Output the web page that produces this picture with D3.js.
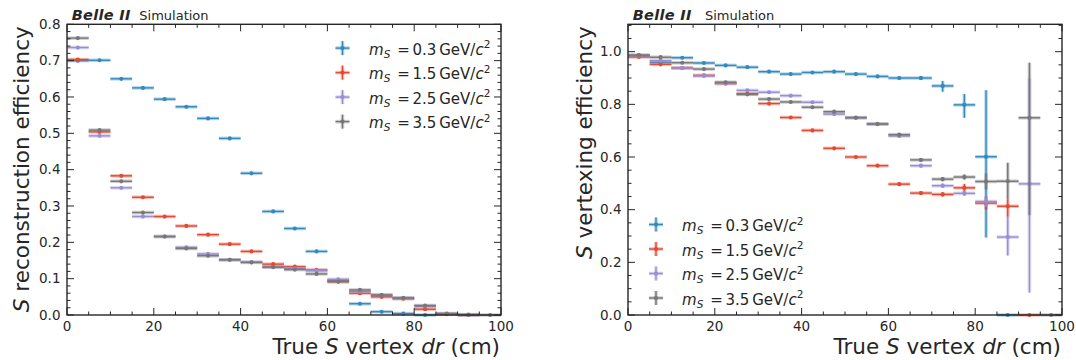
<!DOCTYPE html>
<html><head><meta charset="utf-8">
<script src="https://cdn.jsdelivr.net/npm/d3@7"></script>
<style>
html,body{margin:0;padding:0;background:#fff;}
svg text{font-family:"DejaVu Sans",sans-serif;fill:#262626;}
</style></head>
<body><svg id="c" width="1076" height="360"></svg>
<script>
// ---------- data ----------
const binCenters = [2.5,7.5,12.5,17.5,22.5,27.5,32.5,37.5,42.5,47.5,52.5,57.5,62.5,67.5,72.5,77.5,82.5,87.5,92.5,97.5];
const binHalfWidth = 2.5;
const seriesLabels = ["0.3","1.5","2.5","3.5"];
const seriesColors = ["#348ABD","#E24A33","#988ED5","#777777"];

// S reconstruction efficiency
const recoMs03 = [0.700,0.701,0.650,0.625,0.594,0.573,0.541,0.486,0.390,0.285,0.238,0.175,0.095,0.031,0.009,0.004,0.0,null,null,null];
const recoMs15 = [0.703,0.504,0.383,0.324,0.271,0.245,0.221,0.195,0.175,0.140,0.133,0.124,0.092,0.060,0.050,0.045,0.016,0.002,0.0,null];
const recoMs25 = [0.736,0.493,0.350,0.271,0.216,0.186,0.168,0.152,0.145,0.132,0.128,0.122,0.098,0.065,0.055,0.046,0.024,0.003,0.0,null];
const recoMs35 = [0.762,0.509,0.368,0.282,0.216,0.183,0.163,0.152,0.145,0.132,0.125,0.113,0.092,0.069,0.055,0.047,0.026,0.004,0.001,0.0];
const recoErr = [0.002,0.002,0.002,0.002,0.002,0.002,0.002,0.002,0.002,0.002,0.002,0.002,0.002,0.002,0.002,0.002,0.002,0.001,0.0,0.0];

// S vertexing efficiency
const vtxMs03 = [0.985,0.960,0.977,0.957,0.948,0.941,0.924,0.915,0.921,0.924,0.915,0.906,0.900,0.900,0.870,0.798,0.601,0.0,null,null];
const vtxMs15 = [0.980,0.952,0.938,0.910,0.879,0.840,0.803,0.750,0.701,0.633,0.600,0.567,0.497,0.463,0.458,0.483,0.425,0.413,0.0,null];
const vtxMs25 = [0.985,0.966,0.938,0.908,0.880,0.853,0.846,0.833,0.808,0.763,0.750,0.726,0.680,0.567,0.491,0.462,0.431,0.296,0.498,null];
const vtxMs35 = [0.987,0.979,0.958,0.934,0.884,0.838,0.820,0.809,0.789,0.772,0.749,0.725,0.685,0.589,0.516,0.524,0.507,0.508,0.749,0.0];
const vtxErrUp03 = [0.003,0.003,0.003,0.003,0.003,0.003,0.003,0.004,0.004,0.004,0.004,0.005,0.006,0.008,0.019,0.041,0.253,0,0,0];
const vtxErrDn03 = [0.003,0.003,0.003,0.003,0.003,0.003,0.003,0.004,0.004,0.004,0.004,0.005,0.006,0.008,0.022,0.049,0.307,0,0,0];
const vtxErrUp15 = [0.003,0.003,0.003,0.003,0.003,0.003,0.003,0.004,0.004,0.004,0.004,0.005,0.006,0.007,0.008,0.015,0.025,0.025,0,0];
const vtxErrDn15 = [0.003,0.003,0.003,0.003,0.003,0.003,0.003,0.004,0.004,0.004,0.004,0.005,0.006,0.007,0.008,0.015,0.025,0.040,0,0];
const vtxErrUp25 = [0.003,0.003,0.003,0.003,0.003,0.003,0.003,0.004,0.004,0.004,0.004,0.005,0.006,0.007,0.008,0.010,0.020,0.077,0.400,0];
const vtxErrDn25 = [0.003,0.003,0.003,0.003,0.003,0.003,0.003,0.004,0.004,0.004,0.004,0.005,0.006,0.007,0.008,0.010,0.020,0.070,0.413,0];
const vtxErrUp35 = [0.003,0.003,0.003,0.003,0.003,0.003,0.003,0.004,0.004,0.004,0.004,0.005,0.006,0.007,0.008,0.010,0.030,0.070,0.209,0];
const vtxErrDn35 = [0.003,0.003,0.003,0.003,0.003,0.003,0.003,0.004,0.004,0.004,0.004,0.005,0.006,0.007,0.008,0.010,0.030,0.070,0.370,0];

const xTicks = [0,20,40,60,80,100];
const recoYTicks = [0.0,0.1,0.2,0.3,0.4,0.5,0.6,0.7,0.8];
const vtxYTicks = [0.0,0.2,0.4,0.6,0.8,1.0];

// ---------- drawing ----------
const svg = d3.select("#c");
const plotTop = 24.3, plotBottom = 315;

function panel(cfg){
  const x = d3.scaleLinear().domain([0,100]).range([cfg.x0,cfg.x1]);
  const y = d3.scaleLinear().domain(cfg.yDomain).range([plotBottom,plotTop]);
  const g = svg.append("g");

  // data
  cfg.series.forEach((s,i)=>{
    const col = seriesColors[i];
    const sg = g.append("g");
    binCenters.forEach((c,j)=>{
      const v = s.vals[j];
      if(v===null) return;
      const up = s.up[j]||0, dn = s.dn[j]||0;
      sg.append("line").attr("x1",x(c-binHalfWidth)).attr("x2",x(c+binHalfWidth))
        .attr("y1",y(v)).attr("y2",y(v)).attr("stroke",col).attr("stroke-width",3.6).attr("stroke-opacity",0.35);
      if(up+dn>0.01) sg.append("line").attr("x1",x(c)).attr("x2",x(c)).attr("y1",y(v+up)).attr("y2",y(v-dn))
        .attr("stroke",col).attr("stroke-width",3.6).attr("stroke-opacity",0.35);
      sg.append("line").attr("x1",x(c-binHalfWidth)).attr("x2",x(c+binHalfWidth))
        .attr("y1",y(v)).attr("y2",y(v)).attr("stroke",col).attr("stroke-width",1.4);
      sg.append("line").attr("x1",x(c)).attr("x2",x(c)).attr("y1",y(v+up)).attr("y2",y(v-dn))
        .attr("stroke",col).attr("stroke-width",1.4);
      sg.append("circle").attr("cx",x(c)).attr("cy",y(v)).attr("r",2.1).attr("fill",col);
    });
  });

  // axes (inward ticks)
  const major = 7, minor = 3.5;
  const ax = g.append("g");
  d3.range(0,100.01,5).forEach(t=>{
    const L = xTicks.includes(t)?major:minor;
    ax.append("line").attr("x1",x(t)).attr("x2",x(t)).attr("y1",plotBottom).attr("y2",plotBottom-L).attr("stroke","#262626").attr("stroke-width",1);
    ax.append("line").attr("x1",x(t)).attr("x2",x(t)).attr("y1",plotTop).attr("y2",plotTop+L).attr("stroke","#262626").attr("stroke-width",1);
  });
  d3.range(cfg.yDomain[0], cfg.yDomain[1]+1e-9, cfg.yMinorStep).forEach(t=>{
    const isMaj = cfg.yTicks.some(m=>Math.abs(m-t)<1e-6);
    const L = isMaj?major:minor;
    ax.append("line").attr("x1",cfg.x0).attr("x2",cfg.x0+L).attr("y1",y(t)).attr("y2",y(t)).attr("stroke","#262626").attr("stroke-width",1);
    ax.append("line").attr("x1",cfg.x1).attr("x2",cfg.x1-L).attr("y1",y(t)).attr("y2",y(t)).attr("stroke","#262626").attr("stroke-width",1);
  });
  xTicks.forEach(t=>{
    ax.append("text").attr("x",x(t)).attr("y",plotBottom+16.3).attr("text-anchor","middle").attr("font-size",13.5).text(t);
  });
  cfg.yTicks.forEach(t=>{
    ax.append("text").attr("x",cfg.x0-6.5).attr("y",y(t)+4.8).attr("text-anchor","end").attr("font-size",13.5).text(t.toFixed(1));
  });
  ax.append("rect").attr("x",cfg.x0).attr("y",plotTop).attr("width",cfg.x1-cfg.x0).attr("height",plotBottom-plotTop)
    .attr("fill","none").attr("stroke","#262626").attr("stroke-width",1.4);

  // titles
  g.append("text").attr("x",cfg.x0+4.7).attr("y",20).attr("font-weight","bold").attr("font-style","italic")
    .attr("font-size",14.5).attr("letter-spacing",0.3).text("Belle II");
  g.append("text").attr("x",cfg.x0+cfg.simDx).attr("y",20).attr("font-size",13).text("Simulation");

  const xl = g.append("text").attr("x",cfg.x1-1).attr("y",354).attr("text-anchor","end").attr("font-size",21.5);
  xl.append("tspan").text("True ");
  xl.append("tspan").attr("font-style","italic").text("S");
  xl.append("tspan").text(" vertex ");
  xl.append("tspan").attr("font-style","italic").text("dr");
  xl.append("tspan").text(" (cm)");

  const yl = g.append("text").attr("transform",`translate(${cfg.ylx},${plotTop+2}) rotate(-90)`)
    .attr("text-anchor","end").attr("font-size",21.5);
  yl.append("tspan").attr("font-style","italic").text("S");
  yl.append("tspan").text(" "+cfg.ylabel);

  // legend
  const lg = g.append("g");
  seriesLabels.forEach((lab,i)=>{
    const col = seriesColors[i];
    const ly = cfg.legY + i*cfg.legStep, lx = cfg.legX;
    lg.append("line").attr("x1",lx-7).attr("x2",lx+7).attr("y1",ly).attr("y2",ly).attr("stroke",col).attr("stroke-width",3.6).attr("stroke-opacity",0.35);
    lg.append("line").attr("x1",lx).attr("x2",lx).attr("y1",ly-7).attr("y2",ly+7).attr("stroke",col).attr("stroke-width",3.6).attr("stroke-opacity",0.35);
    lg.append("line").attr("x1",lx-7).attr("x2",lx+7).attr("y1",ly).attr("y2",ly).attr("stroke",col).attr("stroke-width",1.4);
    lg.append("line").attr("x1",lx).attr("x2",lx).attr("y1",ly-7).attr("y2",ly+7).attr("stroke",col).attr("stroke-width",1.4);
    lg.append("circle").attr("cx",lx).attr("cy",ly).attr("r",2.1).attr("fill",col);
    const tx = lg.append("text").attr("x",cfg.legTextX).attr("y",ly+6.5).attr("font-size",15);
    tx.append("tspan").attr("font-style","italic").text("m");
    tx.append("tspan").attr("font-style","italic").attr("font-size",10.5).attr("dy",3).text("S");
    tx.append("tspan").attr("dy",-3).attr("dx",7).text("=");
    tx.append("tspan").attr("dx",2.5).text(lab);
    tx.append("tspan").attr("dx",3).text("GeV/");
    tx.append("tspan").attr("font-style","italic").text("c");
    tx.append("tspan").attr("font-size",10.5).attr("dy",-6.5).text("2");
  });
}

panel({x0:67,x1:501,yDomain:[0,0.8],yTicks:recoYTicks,yMinorStep:0.02,
  ylabel:"reconstruction efficiency", ylx:28.5, simDx:72.3,
  legX:342.5, legY:48.1, legStep:24.5, legTextX:369,
  series:[
    {vals:recoMs03,up:recoErr,dn:recoErr},
    {vals:recoMs15,up:recoErr,dn:recoErr},
    {vals:recoMs25,up:recoErr,dn:recoErr},
    {vals:recoMs35,up:recoErr,dn:recoErr}
  ]});

panel({x0:628,x1:1062,yDomain:[0,1.104],yTicks:vtxYTicks,yMinorStep:0.05,
  ylabel:"vertexing efficiency", ylx:592, simDx:77,
  legX:656, legY:224.5, legStep:24.5, legTextX:682,
  series:[
    {vals:vtxMs03,up:vtxErrUp03,dn:vtxErrDn03},
    {vals:vtxMs15,up:vtxErrUp15,dn:vtxErrDn15},
    {vals:vtxMs25,up:vtxErrUp25,dn:vtxErrDn25},
    {vals:vtxMs35,up:vtxErrUp35,dn:vtxErrDn35}
  ]});
</script></body></html>
